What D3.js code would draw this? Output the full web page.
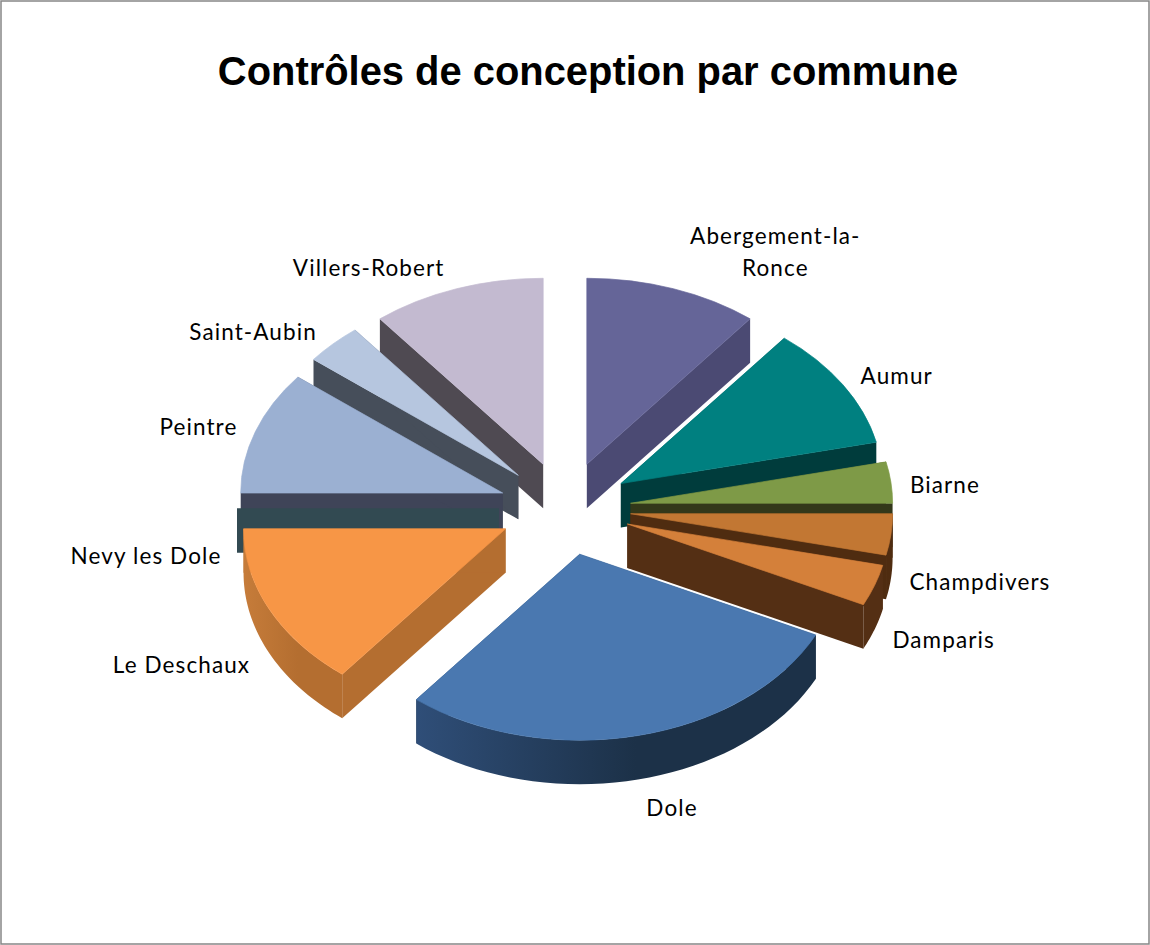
<!DOCTYPE html>
<html><head><meta charset="utf-8">
<script src="https://cdnjs.cloudflare.com/ajax/libs/d3/7.8.5/d3.min.js"></script>
<style>html,body{margin:0;padding:0;background:#fff}svg{display:block}</style>
</head><body><svg id="c" width="1150" height="945"></svg>
<script>
const titleText = "Contrôles de conception par commune";
const communes = ["Abergement-la-\nRonce","Aumur","Biarne","Champdivers","Damparis","Dole","Le Deschaux","Nevy les Dole","Peintre","Saint-Aubin","Villers-Robert"];
const values = [3,3,1,1,1,8,4,0,3,1,3];
const topColors = ["#656598","#008080","#7e9a47","#c27733","#d4803a","#4a78b0","#f79646","#4bacc6","#9bb0d2","#b6c6df","#c3bad0"];
const sideColors = ["#4b4a73","#003c3c","#33381a","#4f2c10","#542f14","#1c3148","#b46e30","#324a52","#3f4458","#464e5a","#4f4a52"];
const wallLeftColors = ["#4b4a73","#003c3c","#33381a","#4f2c10","#542f14","#2f4e78","#c67c3a","#324a52","#3f4458","#464e5a","#4f4a52"];
const labelNudges = [[102,-37],[54,-8],[54,3],[89,48],[69,55],[34,73],[-88,56],[-91,48],[-57,-4],[-80,-12],[-88,-21]];
const paintOrder = [10,0,9,1,8,2,7,3,4,6,5];

const W=1150,H=945,cx=565,cy=508.5,RX=262,RY=186,EXPLODE=66/262,DEPTH=44;
const svg=d3.select("#c");
const defs=svg.append("defs");
svg.append("rect").attr("x",1).attr("y",1).attr("width",W-2).attr("height",H-2).attr("fill","#fff").attr("stroke","#868686").attr("stroke-width",1.5);
svg.append("text").attr("x",588).attr("y",85).attr("text-anchor","middle")
  .attr("font-family","'Liberation Sans',Arial,sans-serif").attr("font-weight","bold").attr("font-size",39.9).attr("fill","#000").text(titleText);

const pie=d3.pie().sort(null).value(d=>d).startAngle(0).endAngle(2*Math.PI);
const arcs=pie(values);
const sx=d3.scaleLinear().domain([0,1]).range([0,RX]);
const sy=d3.scaleLinear().domain([0,1]).range([0,RY]);
const arcGen=d3.arc().innerRadius(0).outerRadius(RX);
const line=d3.line();
function apex(a){const m=(a.startAngle+a.endAngle)/2;return [cx+sx(EXPLODE*Math.sin(m)),cy-sy(EXPLODE*Math.cos(m))];}
function rim(a,t){const p=apex(a);return [p[0]+sx(Math.sin(t)),p[1]-sy(Math.cos(t))];}
function down(p){return [p[0],p[1]+DEPTH];}
const g=svg.append("g");
paintOrder.forEach(i=>{
  const a=arcs[i],p=apex(a),s=rim(a,a.startAngle),e=rim(a,a.endAngle);
  const side=sideColors[i];
  const gid="wall"+i;
  const grad=defs.append("linearGradient").attr("id",gid);
  grad.append("stop").attr("offset","0").attr("stop-color",wallLeftColors[i]);
  grad.append("stop").attr("offset","0.55").attr("stop-color",side);
  grad.append("stop").attr("offset","1").attr("stop-color",side);
  // radial cut walls, trimmed 1px at the top so no dark fringe shows round the top face
  [s,e].forEach(q=>{
    g.append("path").attr("d",line([p,q,down(q),down(p)])+"Z").attr("fill",side);
  });
  // outer curved wall, front half only
  const t0=Math.max(a.startAngle,Math.PI/2),t1=Math.min(a.endAngle,3*Math.PI/2);
  if(t1>t0){
    const ts=d3.range(0,41).map(k=>t0+(t1-t0)*k/40);
    const upper=ts.map(t=>rim(a,t));
    const lower=upper.map(down).reverse();
    g.append("path").attr("d",line(upper.concat(lower))+"Z").attr("fill",`url(#${gid})`);
  }
  // top face
  if(a.endAngle>a.startAngle){
    g.append("path").attr("d",arcGen(a)).attr("transform",`translate(${p[0]},${p[1]}) scale(1,${RY/RX})`)
      .attr("fill",topColors[i]).attr("stroke",topColors[i]).attr("stroke-width",0.8);
  }
});
arcs.forEach((a,i)=>{
  const m=(a.startAngle+a.endAngle)/2,q=rim(a,m);
  const x=q[0]+labelNudges[i][0],y=q[1]+labelNudges[i][1];
  const lines=communes[i].split("\n");
  const t=svg.append("text").attr("text-anchor","middle").attr("font-family","Lato,'Open Sans',sans-serif").attr("font-size",22.5).attr("letter-spacing","1.1px").attr("fill","#000");
  lines.forEach((l,k)=>{
    t.append("tspan").attr("x",x).attr("y",y+(k-(lines.length-1)/2)*32).attr("dy","0.35em").text(l);
  });
});
</script></body></html>
